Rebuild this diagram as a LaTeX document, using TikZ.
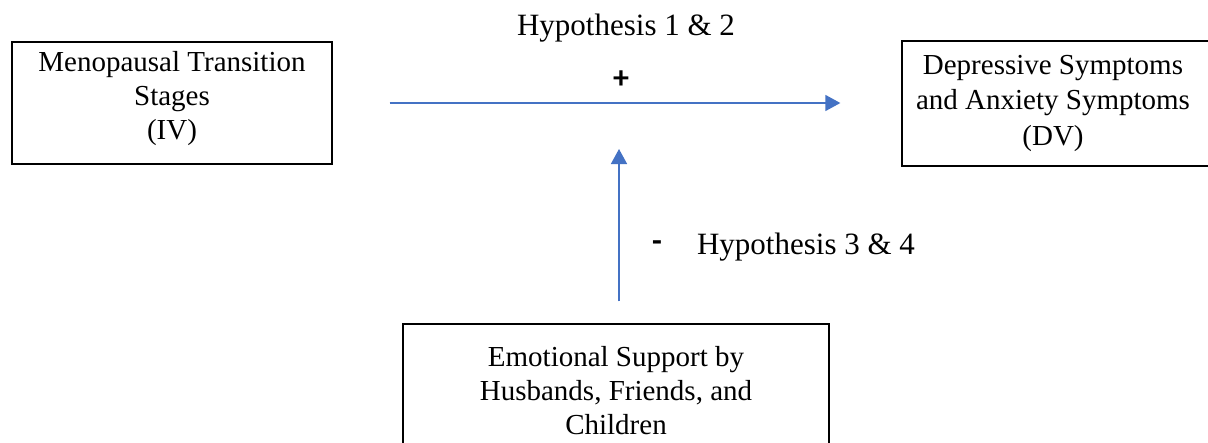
\documentclass[tikz,border=0pt]{standalone}
\usepackage{fontspec}
\setmainfont{Liberation Serif}
\newfontfamily\signfont{Carlito}
\usetikzlibrary{arrows.meta}
\definecolor{arrblue}{HTML}{4472C4}
\tikzset{
  boxnode/.style={draw=black, line width=1.3pt, inner sep=0pt},
  boxtext/.style={inner sep=0pt, align=center, font=\fontsize{29}{34}\selectfont},
  labeltext/.style={inner sep=0pt, font=\fontsize{31}{36}\selectfont},
  signtext/.style={inner sep=0pt, font=\signfont\bfseries\fontsize{32}{36}\selectfont},
  blueline/.style={draw=arrblue, line width=1.5pt, -{Triangle[length=15pt,width=16pt]}}
}
\begin{document}
\begin{tikzpicture}[x=1pt,y=-1pt]
\clip (0,0) rectangle (1208,442);
\fill[white] (0,0) rectangle (1208,442);
\node[boxnode, minimum width=320pt, minimum height=122pt] (iv) at (172,103) {};
\node[boxtext] (ivtext) at (172,99) {Menopausal Transition\\Stages\\(IV)};
\node[boxnode, minimum width=314pt, minimum height=125pt] (dv) at (1059,103.5) {};
\node[boxtext, font=\fontsize{29}{35.5}\selectfont] (dvtext) at (1053,103)
  {Depressive Symptoms\\and Anxiety Symptoms\\(DV)};
\node[boxnode, minimum width=426pt, minimum height=140pt] (es) at (616,394) {};
\node[boxtext] (estext) at (616,391) {Emotional Support by\\Husbands, Friends, and\\Children};
\coordinate (m) at (619,103);
\draw[blueline, shorten <=57pt, shorten >=61pt] (iv.east) -- (iv.east -| dv.west);
\draw[blueline, shorten <=22pt, shorten >=46pt] (m |- es.north) -- (m);
\node[labeltext] (h12) at (626,28) {Hypothesis 1 \& 2};
\node[signtext] (plus) at (621,80) {+};
\node[signtext] (minus) at (657,246) {-};
\node[labeltext] (h34) at (806,247) {Hypothesis 3 \& 4};
\end{tikzpicture}
\end{document}
